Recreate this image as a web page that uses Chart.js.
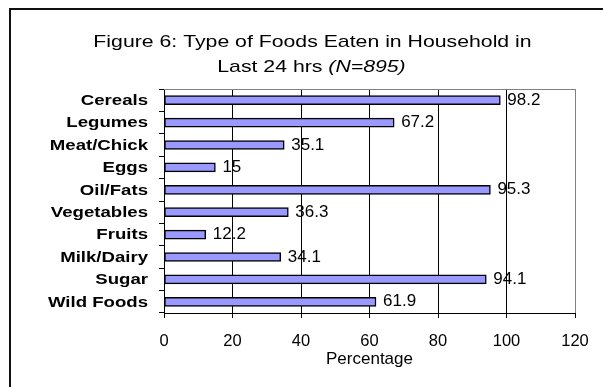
<!DOCTYPE html>
<html>
<head>
<meta charset="utf-8">
<script src="https://cdn.jsdelivr.net/npm/chart.js@4.4.1/dist/chart.umd.min.js"></script>
<style>
  html, body { margin: 0; padding: 0; background: #fff; }
  #wrap { width: 603px; height: 387px; }
</style>
</head>
<body>
<div id="wrap"><canvas id="foodsChart" width="603" height="387"></canvas></div>
<script>
const categories = ['Cereals', 'Legumes', 'Meat/Chick', 'Eggs', 'Oil/Fats', 'Vegetables', 'Fruits', 'Milk/Dairy', 'Sugar', 'Wild Foods'];
const percentages = [98.2, 67.2, 35.1, 15, 95.3, 36.3, 12.2, 34.1, 94.1, 61.9];
const xMin = 0;
const xMax = 120;
const xStep = 20;
const titleLine1 = 'Figure 6: Type of Foods Eaten in Household in';
const titleLine2 = 'Last 24 hrs ';
const titleLine2Italic = '(N=895)';
const xAxisTitle = 'Percentage';

const FONT = '"Liberation Sans", Arial, sans-serif';

// the original text is drawn wider than normal, so stretch it horizontally
function stretchedText(ctx, text, x, y, sx) {
    ctx.save();
    ctx.translate(x, y);
    ctx.scale(sx, 1);
    ctx.textAlign = 'left';
    ctx.fillText(text, 0, 0);
    ctx.restore();
}

const decorPlugin = {
    id: 'decor',
    afterDraw(chart) {
        const ctx = chart.ctx;
        const area = chart.chartArea;
        const yScale = chart.scales.y;
        ctx.save();

        // outer frame (top and left only, as in the picture)
        ctx.fillStyle = '#111';
        ctx.fillRect(9, 8, 603 - 9, 2);
        ctx.fillRect(9, 8, 2, 387 - 8);

        // gray top border of the plot
        ctx.strokeStyle = '#808080';
        ctx.lineWidth = 1;
        ctx.beginPath();
        ctx.moveTo(area.left, Math.round(area.top) + 0.5);
        ctx.lineTo(area.right, Math.round(area.top) + 0.5);
        ctx.stroke();

        // title, two lines, second with italic part
        const tsx = 1.25;
        ctx.fillStyle = '#000';
        ctx.textBaseline = 'middle';
        ctx.font = '17px ' + FONT;
        const w1 = ctx.measureText(titleLine1).width * tsx;
        stretchedText(ctx, titleLine1, 312.5 - w1 / 2, 42.5, tsx);

        const wa = ctx.measureText(titleLine2).width * tsx;
        ctx.font = 'italic 17px ' + FONT;
        const wb = ctx.measureText(titleLine2Italic).width * tsx;
        const x0 = 311.5 - (wa + wb) / 2;
        ctx.font = '17px ' + FONT;
        stretchedText(ctx, titleLine2, x0, 67.5, tsx);
        ctx.font = 'italic 17px ' + FONT;
        stretchedText(ctx, titleLine2Italic, x0 + wa, 67.5, tsx);

        // category labels (bold, stretched), right edge at x=148
        const lsx = 1.2;
        ctx.font = 'bold 15.5px ' + FONT;
        categories.forEach((label, i) => {
            const w = ctx.measureText(label).width * lsx;
            stretchedText(ctx, label, 148 - w, yScale.getPixelForValue(i) + 0.5, lsx);
        });

        // value labels at the bar ends
        ctx.font = '17px ' + FONT;
        ctx.textAlign = 'left';
        const meta = chart.getDatasetMeta(0);
        meta.data.forEach((bar, i) => {
            ctx.fillText(String(percentages[i]), bar.x + 7, bar.y);
        });

        ctx.restore();
    }
};

new Chart(document.getElementById('foodsChart').getContext('2d'), {
    type: 'bar',
    data: {
        labels: categories,
        datasets: [{
            label: 'Percentage',
            data: percentages,
            backgroundColor: '#9999ff',
            borderColor: '#000',
            borderWidth: 1.5,
            borderSkipped: false,
            barThickness: 9
        }]
    },
    options: {
        indexAxis: 'y',
        responsive: false,
        animation: false,
        devicePixelRatio: 1,
        layout: {
            padding: { top: 89, right: 28, left: 0, bottom: 0 }
        },
        plugins: {
            legend: { display: false },
            tooltip: { enabled: false },
            title: { display: false }
        },
        scales: {
            x: {
                min: xMin,
                max: xMax,
                ticks: {
                    stepSize: xStep,
                    color: '#000',
                    padding: 14,
                    font: { family: FONT, size: 16.5 }
                },
                grid: {
                    color: c => (c.tick && c.tick.value === xMax) ? '#808080' : '#000',
                    tickColor: '#000',
                    tickLength: 5,
                    lineWidth: 1
                },
                border: { color: '#000', width: 1 },
                title: {
                    display: true,
                    text: xAxisTitle,
                    color: '#000',
                    font: { family: FONT, size: 17 },
                    padding: { top: 0, bottom: 17 }
                },
                afterFit(scale) { scale.height = 74; }
            },
            y: {
                ticks: { display: false },
                grid: {
                    drawOnChartArea: false,
                    drawTicks: true,
                    tickLength: 5,
                    tickColor: '#000',
                    offset: true
                },
                border: { color: '#000', width: 1 },
                afterFit(scale) { scale.width = 164; }
            }
        }
    },
    plugins: [decorPlugin]
});
</script>
</body>
</html>
